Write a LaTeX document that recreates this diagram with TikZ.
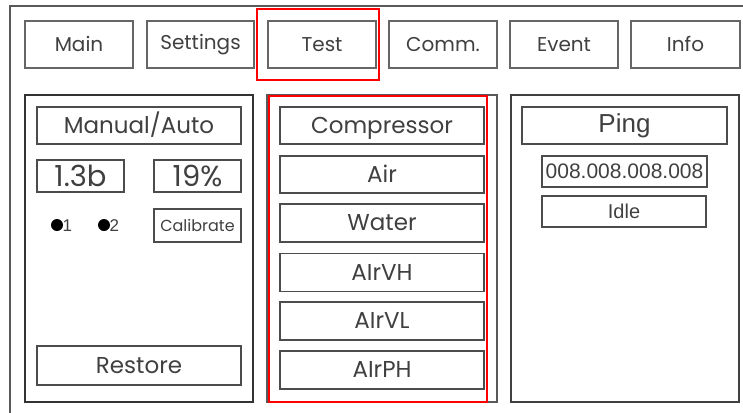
\documentclass[tikz,border=0pt]{standalone}
\usepackage{fontspec}
\setmainfont{Liberation Sans}
\newfontfamily\geo{Poppins}
\begin{document}
\begin{tikzpicture}[x=1pt,y=-1pt,
  txt/.style={text=black!75, inner sep=0pt},
  tab/.style={txt, draw=black!60, line width=1.3pt, minimum height=47pt, text height=15pt, text depth=1pt, font=\geo\fontsize{20}{20}\selectfont},
  panel/.style={draw=black!80, line width=1.8pt},
  field/.style={txt, draw=black!70, line width=1.2pt, text height=16.5pt, text depth=1.5pt, font=\geo\fontsize{23}{23}\selectfont},
  bigfield/.style={field, text height=21pt, text depth=1pt, font=\geo\fontsize{29}{29}\selectfont},
  small/.style={txt, draw=black!70, line width=1.2pt, font=\fontsize{15}{15}\selectfont},
  hilite/.style={draw=red, line width=1.5pt},
]
\useasboundingbox (0,0) rectangle (743,412);
\fill[white] (0,0) rectangle (743,412);
% window frame
\draw[black!65, line width=1.5pt] (10,420) -- (10,6) -- (750,6);

% tabs
\node[tab, minimum width=108pt] (main) at (79,44.5) {Main};
\node[tab, minimum width=107pt] (settings) at (200.5,44.5) {\raisebox{2pt}{Settings}};
\node[tab, minimum width=108pt] (test) at (322,44.5) {Test};
\node[tab, minimum width=108pt] (comm) at (443,44.5) {Comm.};
\node[tab, minimum width=108pt] (event) at (564,44.5) {Event};
\node[tab, minimum width=109pt] (info) at (685.5,44.5) {Info};
\draw[hilite] (257,9) rectangle (379,80);

% panels
\draw[panel] (25,95) rectangle (253,402);
\draw[panel, draw=black!65] (267,95) rectangle (497,402);
\draw[hilite] (269,96) rectangle (487,402);
\draw[panel, draw=black!75] (511,95) rectangle (739,402);

% left panel
\node[field, minimum width=204pt, minimum height=37pt] (mode) at (139,125.5) {Manual/Auto};
\node[bigfield, minimum width=87pt, minimum height=32pt] (press) at (80.5,176) {1.3b};
\node[bigfield, minimum width=87pt, minimum height=32pt] (pct) at (197.5,176) {19\%};
\node[small, minimum width=87pt, minimum height=33pt, font=\geo\fontsize{16}{16}\selectfont] (calib) at (197.5,225.5) {Calibrate};
\node[circle, fill=black, minimum size=12pt, inner sep=0pt] (dota) at (57,225) {};
\node[txt, anchor=west, font=\fontsize{17}{17}\selectfont] (laba) at (62.5,226) {1};
\node[circle, fill=black, minimum size=12pt, inner sep=0pt] (dotb) at (104,225) {};
\node[txt, anchor=west, font=\fontsize{17}{17}\selectfont] (labb) at (109.5,226) {2};
\node[field, minimum width=204pt, minimum height=39pt] (restore) at (139,365.5) {Restore};

% middle panel
\node[field, minimum width=204pt, minimum height=37pt] (comp) at (382,125.5) {Compressor};
\node[field, minimum width=204pt, minimum height=37pt] (air) at (382,174.5) {Air};
\node[field, minimum width=204pt, minimum height=38pt] (water) at (382,223) {Water};
\node[field, minimum width=204pt, minimum height=38pt] (airvh) at (382,272.5) {AIrVH};
\node[field, minimum width=204pt, minimum height=38pt] (airvl) at (382,321) {AIrVL};
\node[field, minimum width=204pt, minimum height=38pt] (airph) at (382,370) {AIrPH};

% right panel
\node[small, minimum width=205pt, minimum height=37pt, font=\fontsize{26}{26}\selectfont] (ping) at (624.5,125.5) {Ping};
\node[small, minimum width=165pt, minimum height=31pt, font=\fontsize{21}{21}\selectfont] (addr) at (624.5,171.5) {008.008.008.008};
\node[small, minimum width=164pt, minimum height=31pt, font=\fontsize{20}{20}\selectfont] (state) at (624,211.5) {Idle};
\end{tikzpicture}
\end{document}
